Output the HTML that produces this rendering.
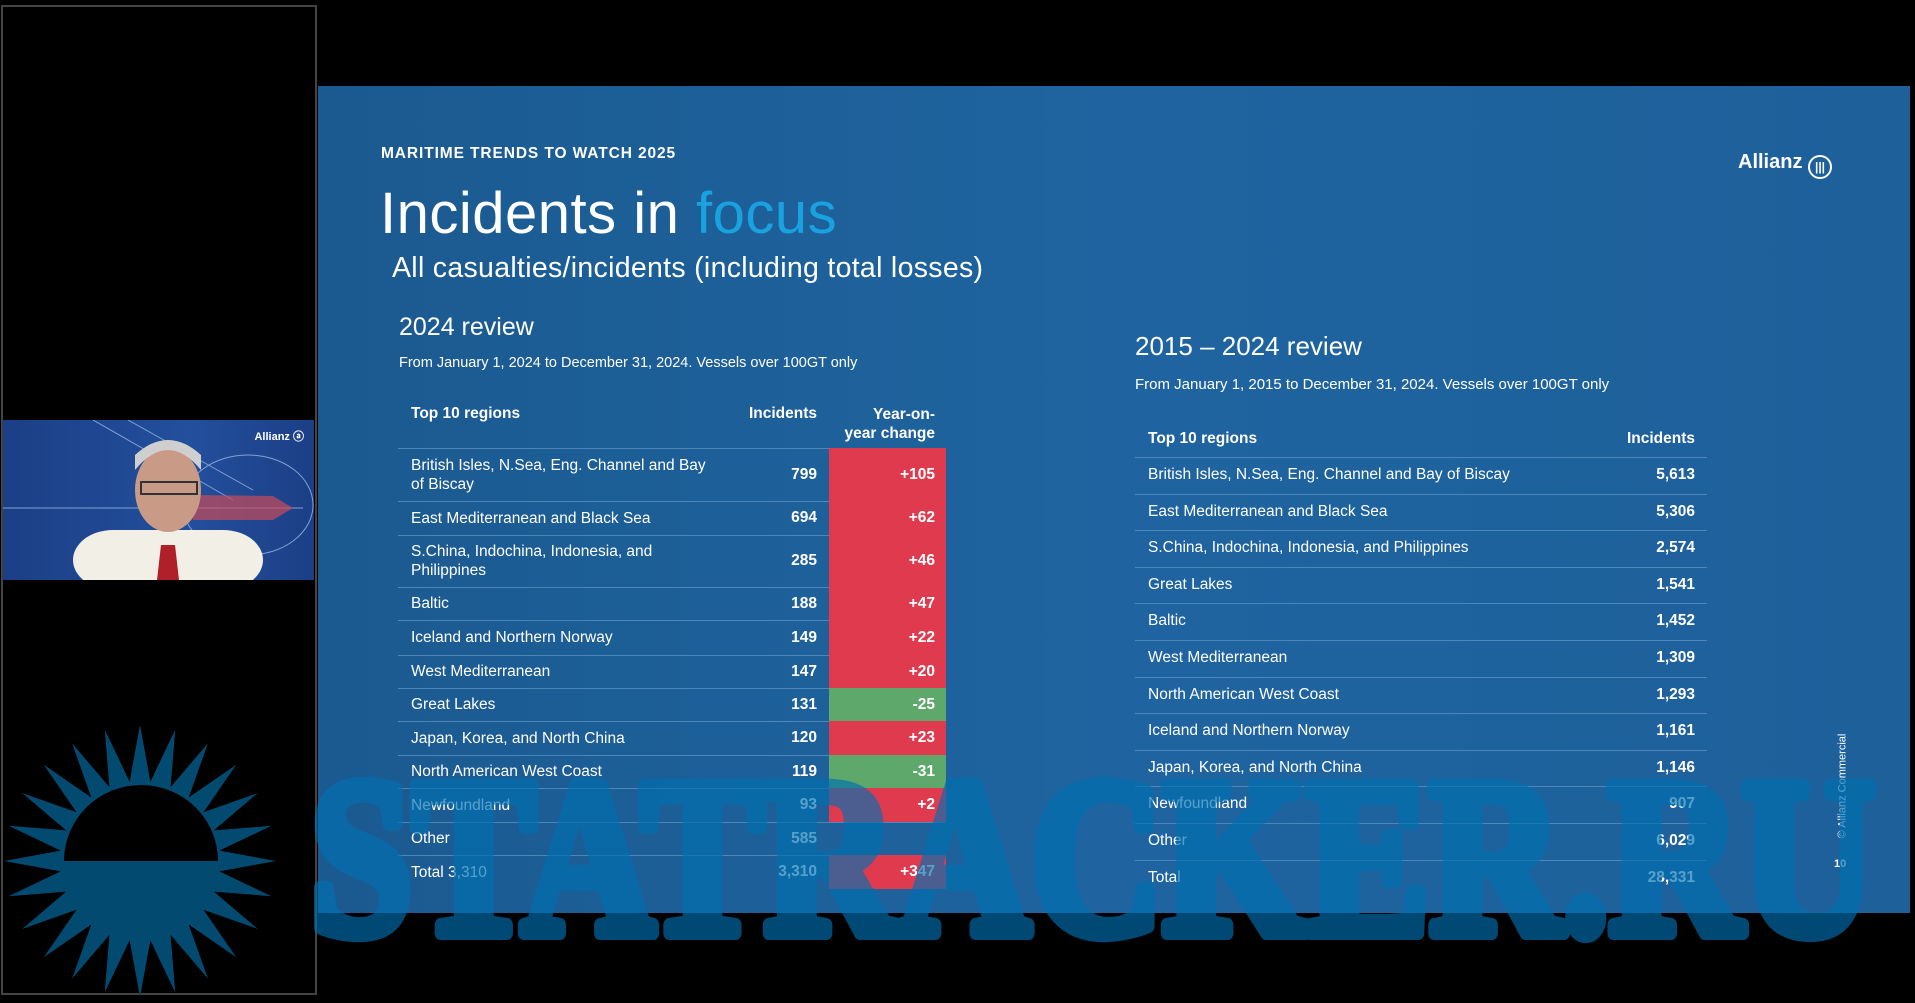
<!DOCTYPE html>
<html><head><meta charset="utf-8"><style>
*{margin:0;padding:0;box-sizing:border-box}
body{width:1915px;height:1003px;background:#000;position:relative;overflow:hidden;font-family:"Liberation Sans",sans-serif;color:#fff}
.a{position:absolute;white-space:nowrap}
#slide{position:absolute;left:318px;top:86px;width:1592px;height:827px;background:linear-gradient(90deg,#1b5a90,#1f64a0 50%,#1d609a)}
.row{position:absolute;border-top:1.5px solid #4d86b8}
.t{font-size:15.5px}
.b{font-weight:bold}
</style></head><body>
<div class="a" style="left:1px;top:5px;width:316px;height:990px;border:2px solid #444"></div>
<div class="a" style="left:3px;top:420px;width:311px;height:160px;background:linear-gradient(90deg,#1b3f86,#234f9c 60%,#1c3f86);overflow:hidden">
 <svg width="311" height="160" style="position:absolute;left:0;top:0">
  <line x1="90" y1="0" x2="230" y2="80" stroke="#7fa2d6" stroke-width="1"/>
  <line x1="125" y1="0" x2="250" y2="70" stroke="#7fa2d6" stroke-width="1"/>
  <line x1="0" y1="88" x2="300" y2="88" stroke="#7fa2d6" stroke-width="1"/>
  <ellipse cx="245" cy="85" rx="65" ry="50" fill="none" stroke="#7fa2d6"/>
  <polygon points="190,75 270,76 290,88 270,100 190,100" fill="#c74a5a" opacity=".7"/>
  <rect x="70" y="110" width="190" height="60" rx="40" fill="#f2efe6"/>
  <ellipse cx="165" cy="70" rx="33" ry="42" fill="#c99a86"/>
  <path d="M132 50 Q165 10 198 50 L198 35 Q165 5 132 35Z" fill="#cfcfcf"/>
  <rect x="138" y="62" width="56" height="12" fill="none" stroke="#333" stroke-width="2"/>
  <polygon points="158,125 172,125 176,160 154,160" fill="#b0202a"/>
 </svg>
 <div class="a b" style="right:10px;top:8px;font-size:11px">Allianz ⓐ</div>
</div>
<div id="slide"></div>
<div class="a b" style="left:381px;top:145px;font-size:15.5px;letter-spacing:.9px">MARITIME TRENDS TO WATCH 2025</div>
<div class="a" style="left:380px;top:180px;font-size:58px;letter-spacing:.5px">Incidents in <span style="color:#1aa2e0">focus</span></div>
<div class="a" style="left:392px;top:252px;font-size:28.5px;letter-spacing:.3px">All casualties/incidents (including total losses)</div>
<div class="a" style="left:399px;top:313px;font-size:25px">2024 review</div>
<div class="a" style="left:399px;top:355px;font-size:14.5px">From January 1, 2024 to December 31, 2024. Vessels over 100GT only</div>
<div class="a" style="left:1135px;top:331px;font-size:26px">2015 – 2024 review</div>
<div class="a" style="left:1135px;top:376px;font-size:15px">From January 1, 2015 to December 31, 2024. Vessels over 100GT only</div>
<div class="a b" style="left:1738px;top:151px;font-size:20px">Allianz <span style="display:inline-block;width:24px;height:24px;border:2px solid #fff;border-radius:50%;vertical-align:-3px;font-size:12px;text-align:center;line-height:20px">|||</span></div>
<div class="a" style="left:1790px;top:780px;font-size:11px;transform:rotate(-90deg)">© Allianz Commercial</div>
<div class="a b" style="left:1834px;top:858px;font-size:11px">10</div>
<div id="lt"></div><div id="rt"></div>
<svg width="1915" height="1003" style="position:absolute;left:0;top:0">
 <polygon id="star" fill="#034a70"/>
 <path d="M64 861 A77 76 0 0 1 218 861Z" fill="#000"/>
 <g opacity="0.66">
 <text x="310" y="933" font-family="Liberation Serif" font-weight="900" font-size="225" textLength="1565" lengthAdjust="spacingAndGlyphs" fill="#0070b0" stroke="#0070b0" stroke-width="14" stroke-linejoin="round">STATRACKER.RU</text>
 </g>
</svg>
<script>
var p=[],n=24;for(var i=0;i<2*n;i++){var r=i%2?80:136,a=Math.PI*i/n-Math.PI/2;p.push((140+r*Math.cos(a)).toFixed(1)+","+(861+r*Math.sin(a)).toFixed(1));}
document.getElementById('star').setAttribute('points',p.join(' '));
var L=[["British Isles, N.Sea, Eng. Channel and Bay<br>of Biscay","799","+105"],["East Mediterranean and Black Sea","694","+62"],["S.China, Indochina, Indonesia, and<br>Philippines","285","+46"],["Baltic","188","+47"],["Iceland and Northern Norway","149","+22"],["West Mediterranean","147","+20"],["Great Lakes","131","-25"],["Japan, Korea, and North China","120","+23"],["North American West Coast","119","-31"],["Newfoundland","93","+2"],["Other","585",""],["Total 3,310","3,310","+347"]];
var B=[448,501,535,587,620,655,688,721,755,788,822,855,889],h='';
h+='<div class="a t b" style="left:411px;top:405px">Top 10 regions</div><div class="a t b" style="left:740px;width:77px;text-align:right;top:405px">Incidents</div><div class="a t b" style="left:829px;width:106px;text-align:right;top:405px;line-height:19px">Year-on-<br>year change</div>';
for(var i=0;i<L.length;i++){var t=B[i],hh=B[i+1]-t,c=L[i][2];
 h+='<div class="row" style="left:398px;width:548px;top:'+t+'px;height:'+hh+'px"></div>';
 if(c)h+='<div class="a" style="left:829px;width:117px;top:'+t+'px;height:'+hh+'px;background:'+(c[0]=='-'?'#5ea86c':'#e03a4f')+'"></div>';
 h+='<div class="a t" style="left:411px;top:'+t+'px;height:'+hh+'px;display:flex;align-items:center;line-height:19px">'+L[i][0]+'</div>';
 h+='<div class="a t b" style="left:740px;width:77px;text-align:right;top:'+t+'px;height:'+hh+'px;display:flex;align-items:center;justify-content:flex-end">'+L[i][1]+'</div>';
 h+='<div class="a t b" style="left:829px;width:106px;top:'+t+'px;height:'+hh+'px;display:flex;align-items:center;justify-content:flex-end">'+c+'</div>';}
document.getElementById('lt').innerHTML=h;
var R=[["British Isles, N.Sea, Eng. Channel and Bay of Biscay","5,613"],["East Mediterranean and Black Sea","5,306"],["S.China, Indochina, Indonesia, and Philippines","2,574"],["Great Lakes","1,541"],["Baltic","1,452"],["West Mediterranean","1,309"],["North American West Coast","1,293"],["Iceland and Northern Norway","1,161"],["Japan, Korea, and North China","1,146"],["Newfoundland","907"],["Other","6,029"],["Total","28,331"]];
h='<div class="a t b" style="left:1148px;top:430px">Top 10 regions</div><div class="a t b" style="left:1600px;width:95px;text-align:right;top:430px">Incidents</div>';
for(var i=0;i<R.length;i++){var t=457+i*36.6;
 h+='<div class="row" style="left:1135px;width:572px;top:'+t+'px;height:36.6px"></div>';
 h+='<div class="a t" style="left:1148px;top:'+(t+9)+'px">'+R[i][0]+'</div><div class="a t b" style="left:1600px;width:95px;text-align:right;top:'+(t+9)+'px">'+R[i][1]+'</div>';}
document.getElementById('rt').innerHTML=h;
</script>
</body></html>
